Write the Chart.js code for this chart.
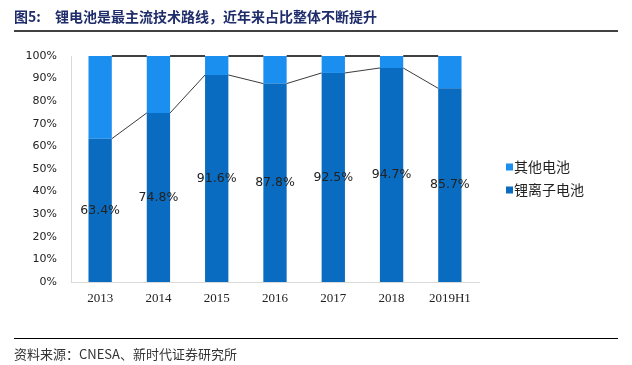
<!DOCTYPE html>
<html lang="zh">
<head>
  <meta charset="UTF-8">
  <title>锂电池占比</title>
  <script src="https://cdn.jsdelivr.net/npm/chart.js"></script>
  <style>
    html, body { margin: 0; padding: 0; background: #fff; }
    #wrap { width: 632px; height: 365px; position: relative; }
  </style>
</head>
<body>
<div id="wrap"><canvas id="c" width="632" height="365"></canvas></div>
<script>
const years = ['2013', '2014', '2015', '2016', '2017', '2018', '2019H1'];
const lithium = [63.4, 74.8, 91.6, 87.8, 92.5, 94.7, 85.7];
const others = [36.6, 25.2, 8.4, 12.2, 7.5, 5.3, 14.3];
const yTicks = [0, 10, 20, 30, 40, 50, 60, 70, 80, 90, 100];

const cnFont = '"Noto Sans CJK SC", sans-serif';

// 标题、脚注、图例、系列线、数据标签
const decor = {
  id: 'decor',
  afterDatasetsDraw(chart) {
    const ctx = chart.ctx;
    const m0 = chart.getDatasetMeta(0).data;
    const m1 = chart.getDatasetMeta(1).data;
    ctx.save();
    // 系列线
    for (let i = 0; i < m0.length - 1; i++) {
      const a = m0[i], b = m0[i + 1];
      ctx.strokeStyle = '#3a3a3a';
      ctx.lineWidth = 1;
      ctx.beginPath();
      ctx.moveTo(a.x + a.width / 2, a.y);
      ctx.lineTo(b.x - b.width / 2, b.y);
      ctx.stroke();
      const c = m1[i], d = m1[i + 1];
      ctx.strokeStyle = '#000';
      ctx.lineWidth = 1.5;
      ctx.beginPath();
      ctx.moveTo(c.x + c.width / 2, c.y);
      ctx.lineTo(d.x - d.width / 2, d.y);
      ctx.stroke();
    }
    // 数据标签
    ctx.fillStyle = '#222';
    ctx.font = '12.5px "DejaVu Sans", sans-serif';
    ctx.textAlign = 'center';
    ctx.textBaseline = 'middle';
    m0.forEach((bar, i) => {
      ctx.fillText(lithium[i].toFixed(1) + '%', bar.x, (bar.y + bar.base) / 2);
    });
    ctx.restore();
  },
  afterDraw(chart) {
    const ctx = chart.ctx;
    ctx.save();
    // 标题
    ctx.fillStyle = '#1f2d6b';
    ctx.font = 'bold 14px ' + cnFont;
    ctx.textBaseline = 'middle';
    ctx.textAlign = 'left';
    ctx.fillText('图5:', 14, 17);
    ctx.fillText('锂电池是最主流技术路线，近年来占比整体不断提升', 55, 17);
    ctx.strokeStyle = '#000';
    ctx.lineWidth = 1.5;
    ctx.beginPath();
    ctx.moveTo(14, 31);
    ctx.lineTo(618, 31);
    ctx.stroke();
    // 脚注
    ctx.lineWidth = 1.2;
    ctx.beginPath();
    ctx.moveTo(14, 338.5);
    ctx.lineTo(618, 338.5);
    ctx.stroke();
    ctx.fillStyle = '#333';
    ctx.font = '13px ' + cnFont;
    ctx.fillText('资料来源：CNESA、新时代证券研究所', 14, 354);
    // 图例
    const items = [['其他电池', '#1a8ff0'], ['锂离子电池', '#0a6cc0']];
    ctx.font = '14px ' + cnFont;
    items.forEach((it, i) => {
      const y = 167 + i * 23;
      ctx.fillStyle = it[1];
      ctx.fillRect(506, y - 3.5, 7, 7);
      ctx.fillStyle = '#222';
      ctx.fillText(it[0], 514, y);
    });
    ctx.restore();
  }
};

new Chart(document.getElementById('c'), {
  type: 'bar',
  data: {
    labels: years,
    datasets: [
      { label: '锂离子电池', data: lithium, backgroundColor: '#0a6cc0', barPercentage: 0.4, categoryPercentage: 1 },
      { label: '其他电池', data: others, backgroundColor: '#1a8ff0', barPercentage: 0.4, categoryPercentage: 1 }
    ]
  },
  options: {
    responsive: false,
    animation: false,
    layout: { padding: { left: 0, right: 153, top: 56, bottom: 0 } },
    plugins: { legend: { display: false }, tooltip: { enabled: false } },
    scales: {
      x: {
        stacked: true,
        grid: { display: false, drawTicks: false },
        border: { color: '#d9d9d9' },
        ticks: { color: '#222', font: { family: '"Liberation Serif", serif', size: 13 }, padding: 9 },
        afterFit(s) { s.height = 83; }
      },
      y: {
        stacked: true,
        min: 0,
        max: 100,
        afterBuildTicks(s) { s.ticks = yTicks.map(v => ({ value: v })); },
        grid: { display: false, drawTicks: false },
        border: { color: '#d9d9d9' },
        ticks: {
          color: '#222',
          font: { family: '"DejaVu Sans", sans-serif', size: 11 },
          padding: 14,
          callback: v => v + '%'
        },
        afterFit(s) { s.width = 71; }
      }
    }
  },
  plugins: [decor]
});
</script>
</body>
</html>
